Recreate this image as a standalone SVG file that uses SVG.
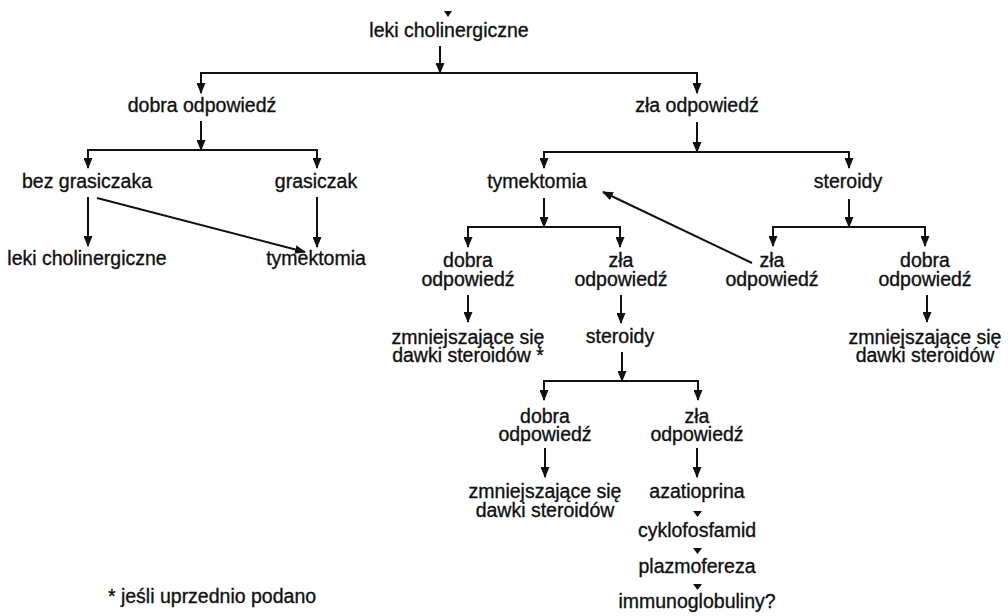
<svg xmlns="http://www.w3.org/2000/svg" width="1008" height="616" viewBox="0 0 1008 616">
<defs>
<marker id="ah" markerUnits="userSpaceOnUse" markerWidth="11" markerHeight="9" refX="10" refY="4.5" orient="auto">
<path d="M0,0 L11,4.5 L0,9 z" fill="#111"/>
</marker>
</defs>
<style>
text{font-family:"Liberation Sans",Arial,sans-serif;font-size:19.5px;fill:#111;stroke:#111;stroke-width:0.35;text-anchor:middle}
.c{fill:none;stroke:#111;stroke-width:2;marker-end:url(#ah)}
.t{fill:#111;stroke:none}
</style>
<rect width="1008" height="616" fill="#fff"/>
<g id="connectors">
<polygon class="t" points="444,11 452,11 448,17"/>
<path class="c" d="M440 46 V73"/>
<path class="c" d="M440 73 H201 V93"/>
<path class="c" d="M440 73 H697 V93"/>
<path class="c" d="M201 121 V150"/>
<path class="c" d="M201 150 H88 V168"/>
<path class="c" d="M201 150 H317 V168"/>
<path class="c" d="M697 122 V152"/>
<path class="c" d="M697 152 H544 V168"/>
<path class="c" d="M697 152 H849 V168"/>
<path class="c" d="M88 197 V246"/>
<path class="c" d="M97 198 L305 252"/>
<path class="c" d="M317 197 V247"/>
<path class="c" d="M544 198 V227"/>
<path class="c" d="M544 227 H468 V247"/>
<path class="c" d="M544 227 H620 V247"/>
<path class="c" d="M849 199 V227"/>
<path class="c" d="M849 227 H773 V246"/>
<path class="c" d="M849 227 H925 V246"/>
<path class="c" d="M752 263 L603 192"/>
<path class="c" d="M468 295 V322"/>
<path class="c" d="M621 295 V323"/>
<path class="c" d="M927 295 V322"/>
<path class="c" d="M622 352 V381"/>
<path class="c" d="M622 381 H544 V400"/>
<path class="c" d="M622 381 H698 V400"/>
<path class="c" d="M545 448 V477"/>
<path class="c" d="M697 448 V477"/>
<polygon class="t" points="693,511 702,511 697.5,517"/>
<polygon class="t" points="693,548 702,548 697.5,554"/>
<polygon class="t" points="693,584 702,584 697.5,590"/>
</g>
<g id="n_root"><text x="449" y="37">leki cholinergiczne</text></g>
<g id="n_dobra1"><text x="202" y="112">dobra odpowiedź</text></g>
<g id="n_zla1"><text x="697" y="112">zła odpowiedź</text></g>
<g id="n_bez"><text x="87" y="188">bez grasiczaka</text></g>
<g id="n_grasiczak"><text x="316" y="188">grasiczak</text></g>
<g id="n_tym1"><text x="537" y="188">tymektomia</text></g>
<g id="n_ster1"><text x="848" y="188">steroidy</text></g>
<g id="n_leki2"><text x="87" y="265">leki cholinergiczne</text></g>
<g id="n_tym2"><text x="316" y="265">tymektomia</text></g>
<g id="n_dobra2"><text x="468" y="267">dobra</text><text x="468" y="286">odpowiedź</text></g>
<g id="n_zla2"><text x="621" y="267">zła</text><text x="621" y="286">odpowiedź</text></g>
<g id="n_zla3"><text x="772" y="267">zła</text><text x="772" y="286">odpowiedź</text></g>
<g id="n_dobra3"><text x="925" y="267">dobra</text><text x="925" y="286">odpowiedź</text></g>
<g id="n_zmn1"><text x="468" y="344">zmniejszające się</text><text x="468" y="362">dawki steroidów *</text></g>
<g id="n_ster2"><text x="620" y="343">steroidy</text></g>
<g id="n_zmn2"><text x="925" y="344">zmniejszające się</text><text x="925" y="362">dawki steroidów</text></g>
<g id="n_dobra4"><text x="545" y="423">dobra</text><text x="545" y="441">odpowiedź</text></g>
<g id="n_zla4"><text x="697" y="423">zła</text><text x="697" y="441">odpowiedź</text></g>
<g id="n_zmn3"><text x="545" y="498">zmniejszające się</text><text x="545" y="517">dawki steroidów</text></g>
<g id="n_aza"><text x="697" y="498">azatioprina</text></g>
<g id="n_cyk"><text x="697" y="537">cyklofosfamid</text></g>
<g id="n_plaz"><text x="697" y="573">plazmofereza</text></g>
<g id="n_imm"><text x="697" y="608">immunoglobuliny?</text></g>
<g id="footnote"><text x="212" y="603">* jeśli uprzednio podano</text></g>
</svg>
